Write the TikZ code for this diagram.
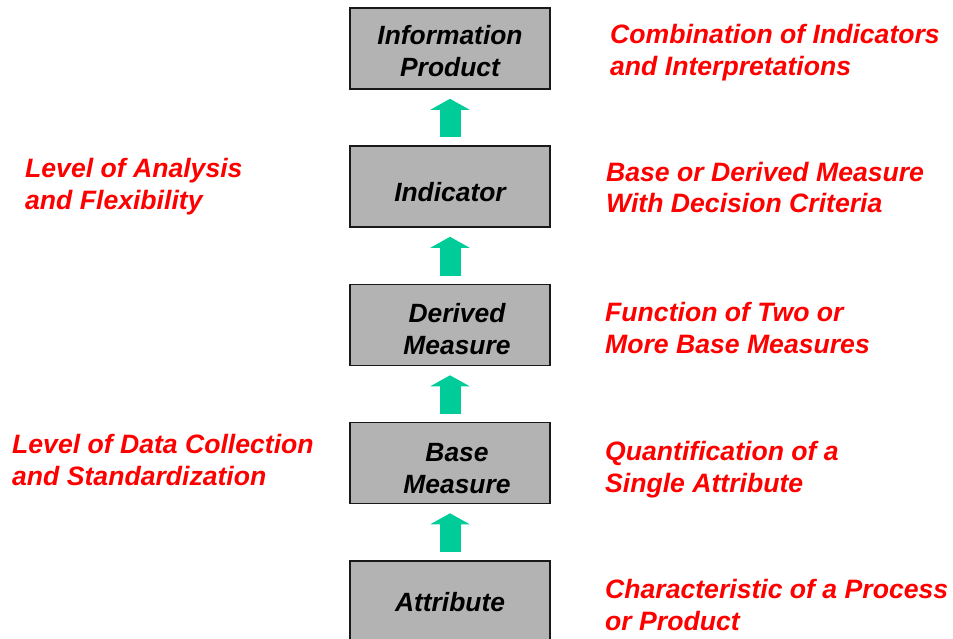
\documentclass[tikz,border=0pt]{standalone}
\usepackage{fontspec}
\setmainfont{Liberation Sans}
\usetikzlibrary{arrows.meta}
\definecolor{boxgray}{RGB}{179,179,179}
\definecolor{arrgreen}{RGB}{0,204,153}
\definecolor{redtxt}{RGB}{255,0,0}
\begin{document}
\begin{tikzpicture}[x=1pt,y=-1pt,
  box/.style={draw=black!90, line width=1.6pt, fill=boxgray, minimum width=200pt, minimum height=81pt,
    inner sep=0pt},
  boxtext/.style={align=center, inner sep=0pt, font=\fontsize{26.4}{32}\selectfont\bfseries\itshape},
  note/.style={text=redtxt, align=left, anchor=base west, inner sep=0pt,
    font=\fontsize{26.6}{32}\selectfont\bfseries\itshape},
  uparrow/.style={draw=arrgreen, line width=21pt, -{Triangle[width=39pt,length=11pt]},
    shorten <=8pt, shorten >=9pt}]
\useasboundingbox (0,0) rectangle (953,639);
\clip (0,0) rectangle (953,639);
\node[box, label={[boxtext, yshift=-2.5pt]center:Information\\Product}] (info) at (450,48.5) {};
\node[box, label={[boxtext, yshift=-5.5pt]center:Indicator}] (ind) at (450,186.5) {};
\node[box, label={[boxtext, yshift=-4pt, xshift=7pt]center:Derived\\Measure}] (der) at (450,325) {};
\node[box, label={[boxtext, yshift=-5.5pt, xshift=7pt]center:Base\\Measure}] (base) at (450,463) {};
\node[box, label={[boxtext, yshift=-1pt]center:Attribute}] (attr) at (450,601.5) {};
\draw[uparrow] (ind.north) -- (info.south);
\draw[uparrow] (der.north) -- (ind.south);
\draw[uparrow] (base.north) -- (der.south);
\draw[uparrow] (attr.north) -- (base.south);
\node[note] (n1) at (610,76) {Combination of Indicators\\and Interpretations};
\node[note] (n2) at (606,213) {Base or Derived Measure\\With Decision Criteria};
\node[note] (n3) at (605,353) {Function of Two or\\More Base Measures};
\node[note] (n4) at (605,492) {Quantification of a\\Single Attribute};
\node[note] (n5) at (605,630) {Characteristic of a Process\\or Product};
\node[note] (l1) at (25,210) {Level of Analysis\\and Flexibility};
\node[note] (l2) at (12,485) {Level of Data Collection\\and Standardization};
\end{tikzpicture}
\end{document}
